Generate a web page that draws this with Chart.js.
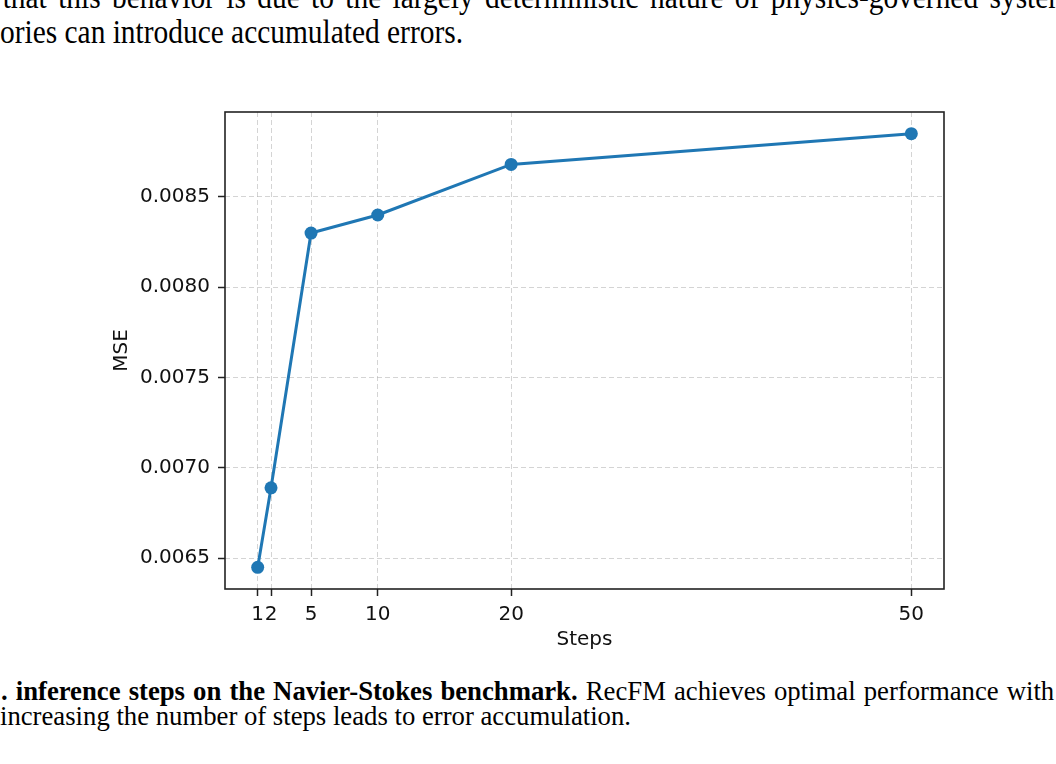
<!DOCTYPE html>
<html lang="en">
<head>
  <meta charset="UTF-8" />
  <title>MSE vs. inference steps</title>
  <style>
    html, body {
      margin: 0;
      padding: 0;
      background: #fff;
      width: 1056px;
      height: 764px;
      overflow: hidden;
      position: relative;
    }
    .txt {
      position: absolute;
      left: 0;
      font-family: "Liberation Serif", "Times New Roman", serif;
      color: #000;
      white-space: nowrap;
      transform-origin: 0 0;
    }
    #bodyText {
      top: -20px;
      font-size: 33px;
      line-height: 35px;
    }
    #caption {
      top: 678px;
      font-size: 28px;
      line-height: 25px;
    }
    #chartBox {
      position: absolute;
      left: 100px;
      top: 92px;
      width: 870px;
      height: 568px;
    }
  </style>
</head>
<body>
  <div class="txt" id="bodyText"><span style="margin-left:3px; word-spacing:4.5px">that this behavior is due to the largely deterministic nature of physics-governed systems, where</span><br><span id="bodyLast">ories can introduce accumulated errors.</span></div>

  <div id="chartBox"><canvas id="mseChart"></canvas></div>

  <div class="txt" id="caption"><span style="margin-left:1px; word-spacing:1.5px"><b>. inference steps on the Navier-Stokes benchmark.</b> RecFM achieves optimal performance with</span><br><span id="captionLast">increasing the number of steps leads to error accumulation.</span></div>

  <script src="https://cdn.jsdelivr.net/npm/chart.js"></script>
  <script>
    const steps = [1, 2, 5, 10, 20, 50];
    const mse = [0.00645, 0.00689, 0.00830, 0.00840, 0.00868, 0.00885];
    const xTicks = [1, 2, 5, 10, 20, 50];
    const yTicks = [0.0065, 0.0070, 0.0075, 0.0080, 0.0085];

    // the scanned page text is a bit condensed, squeeze it to the measured widths
    function fitWidth(boxId, lineId, target) {
      const w = document.getElementById(lineId).getBoundingClientRect().width;
      document.getElementById(boxId).style.transform = "scaleX(" + (target / w) + ")";
    }
    fitWidth("bodyText", "bodyLast", 463);
    fitWidth("caption", "captionLast", 631);

    const axisFont = { family: "DejaVu Sans", size: 20 };
    const ink = "#111";
    const gridColor = "rgba(176,176,176,0.55)";

    // matplotlib style closed frame round the plot area
    const frame = {
      id: "frame",
      afterDatasetsDraw(chart) {
        const a = chart.chartArea;
        const ctx = chart.ctx;
        ctx.save();
        ctx.strokeStyle = "#222";
        ctx.lineWidth = 1.6;
        ctx.strokeRect(a.left, a.top, a.right - a.left, a.bottom - a.top);
        ctx.restore();
      },
    };

    const ctx = document.getElementById("mseChart").getContext("2d");
    new Chart(ctx, {
      type: "line",
      data: {
        datasets: [{
          label: "MSE",
          data: steps.map((s, i) => ({ x: s, y: mse[i] })),
          borderColor: "#1f77b4",
          backgroundColor: "#1f77b4",
          borderWidth: 3,
          pointRadius: 6.5,
          pointBorderWidth: 0,
          pointBackgroundColor: "#1f77b4",
          tension: 0,
        }],
      },
      options: {
        responsive: true,
        maintainAspectRatio: false,
        animation: false,
        layout: { padding: { left: 0, top: 3, right: 26, bottom: 0 } },
        plugins: {
          legend: { display: false },
          tooltip: { enabled: false },
        },
        scales: {
          x: {
            type: "linear",
            min: -1.45,
            max: 52.45,
            afterBuildTicks: (scale) => { scale.ticks = xTicks.map(v => ({ value: v })); },
            afterFit: (scale) => { scale.height = 71; },
            ticks: {
              autoSkip: false,
              maxRotation: 0,
              padding: 7,
              color: ink,
              font: axisFont,
              callback: (v) => String(v),
            },
            grid: {
              color: gridColor,
              lineWidth: 1,
              tickLength: 7,
              tickColor: "#222",
              tickWidth: 1.5,
            },
            border: { display: false, dash: [5, 3] },
            title: {
              display: true,
              text: "Steps",
              color: ink,
              font: axisFont,
              padding: { top: 0, bottom: 8 },
            },
          },
          y: {
            min: 0.00633,
            max: 0.00897,
            afterBuildTicks: (scale) => { scale.ticks = yTicks.map(v => ({ value: v })); },
            afterFit: (scale) => { scale.width = 125; },
            ticks: {
              padding: 8,
              color: ink,
              font: axisFont,
              callback: (v) => v.toFixed(4),
            },
            grid: {
              color: gridColor,
              lineWidth: 1,
              tickLength: 7,
              tickColor: "#222",
              tickWidth: 1.5,
            },
            border: { display: false, dash: [5, 3] },
            title: {
              display: true,
              text: "MSE",
              color: ink,
              font: axisFont,
              padding: { top: 10, bottom: 0 },
            },
          },
        },
      },
      plugins: [frame],
    });
  </script>
</body>
</html>
